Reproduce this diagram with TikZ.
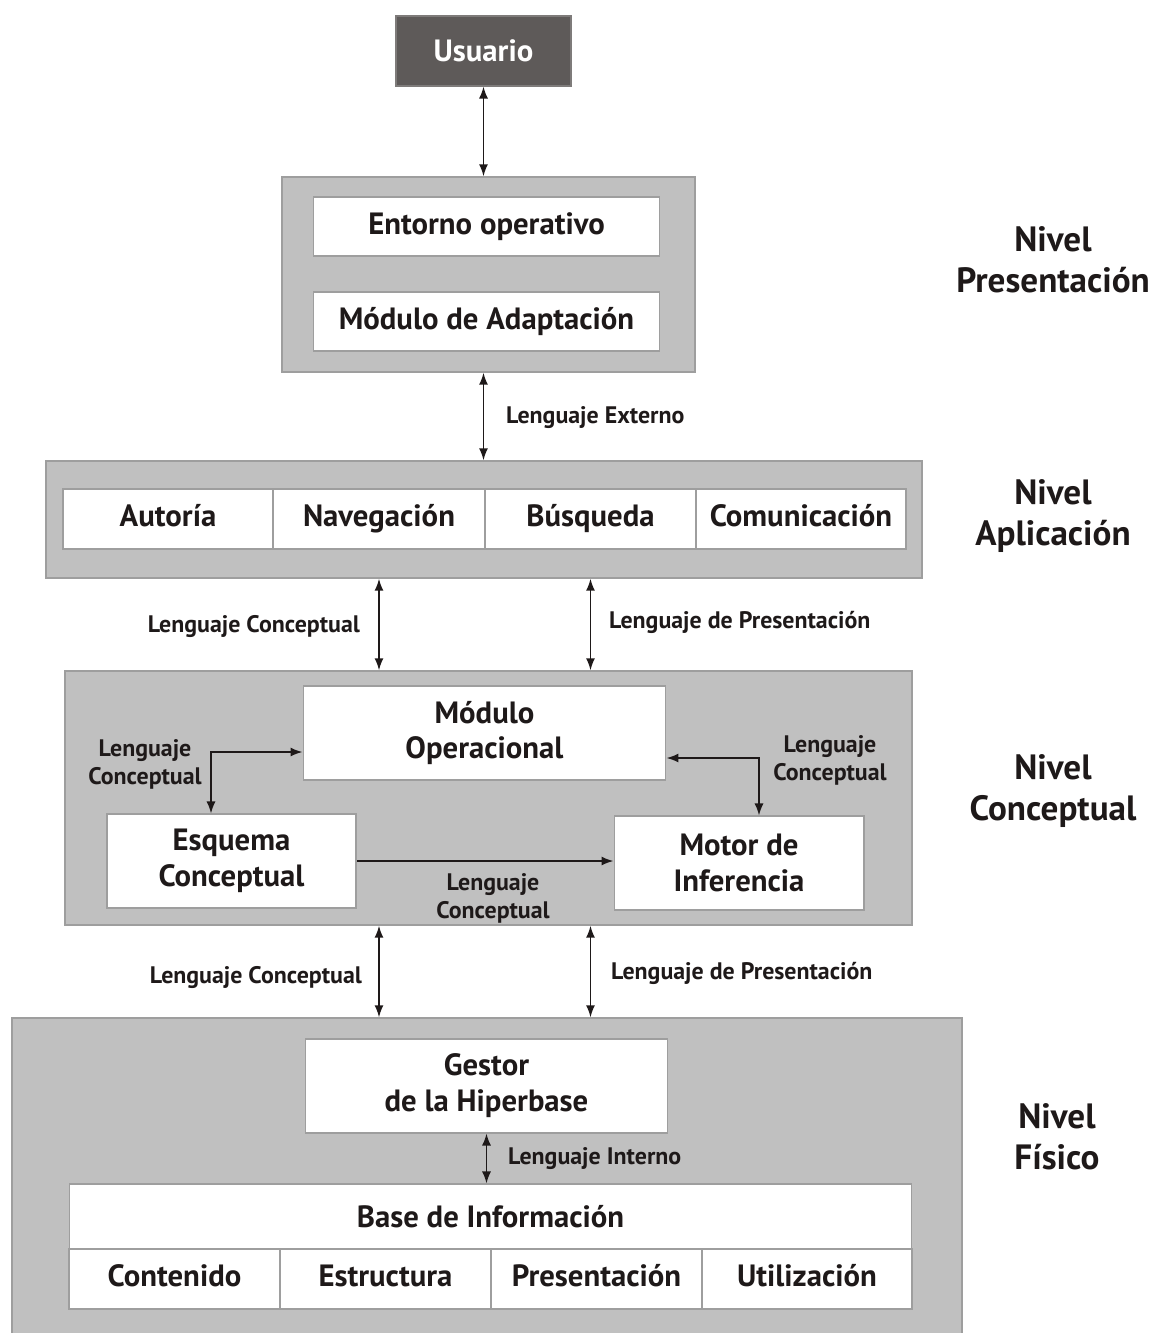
\documentclass[tikz,border=0pt]{standalone}
\usepackage{fontspec}
\setmainfont{PT Sans}
\usetikzlibrary{arrows.meta,positioning}
\definecolor{panelgray}{RGB}{192,192,192}
\definecolor{paneledge}{RGB}{158,158,158}
\definecolor{userdark}{RGB}{94,90,89}
\definecolor{inkblack}{RGB}{30,25,25}

\begin{document}
\begin{tikzpicture}[x=0.02cm,y=-0.02cm,>={Latex[length=2.4mm,width=1.8mm]},
  panel/.style={draw=paneledge,fill=panelgray,line width=0.8pt,inner sep=0pt},
  box/.style={draw=paneledge,fill=white,line width=0.6pt,inner sep=0pt,align=center,
              font=\bfseries\fontsize{17.5}{20.4}\selectfont,text=inkblack},
  cell/.style={box,minimum width=4.22cm,minimum height=1.2cm,text height=2.4ex,text depth=0.7ex},
  lbl/.style={font=\bfseries\fontsize{13.6}{15.9}\selectfont,text=inkblack,inner sep=1pt,align=center},
  nivel/.style={font=\bfseries\fontsize{20}{23.2}\selectfont,align=center,text=inkblack},
  link/.style={<->,line width=0.9pt,draw=inkblack}]
  \useasboundingbox (0,0) rectangle (1151,1333);

  % usuario
  \node[box,fill=userdark,draw=userdark!80,text=white,minimum width=3.5cm,minimum height=1.4cm]
    (usuario) at (483.5,51) {Usuario};

  % nivel presentacion
  \node[panel,minimum width=8.26cm,minimum height=3.9cm] (pres) at (488.5,274.5) {};
  \node[box,minimum width=6.94cm,minimum height=1.18cm] (entorno) at (486.5,226.5) {Entorno operativo};
  \node[box,minimum width=6.94cm,minimum height=1.18cm] (adapt) at (486.5,321.5) {Módulo de Adaptación};

  % nivel aplicacion
  \node[panel,minimum width=17.52cm,minimum height=2.34cm] (apl) at (484,519.5) {};
  \node[cell,minimum width=4.2cm] (aut) at (168,519) {Autoría};
  \node[cell,minimum width=4.24cm] (nav) at (379,519) {Navegación};
  \node[cell] (bus) at (590.5,519) {Búsqueda};
  \node[cell,minimum width=4.2cm] (com) at (801,519) {Comunicación};

  % nivel conceptual
  \node[panel,minimum width=16.94cm,minimum height=5.08cm] (conc) at (488.5,798) {};
  \node[box,minimum width=7.26cm,minimum height=1.88cm] (modop) at (484.5,733) {Módulo\\Operacional};
  \node[box,minimum width=4.98cm,minimum height=1.88cm] (esq) at (231.5,861) {Esquema\\Conceptual};
  \node[box,minimum width=5.0cm,minimum height=1.88cm] (motor) at (739,863) {Motor de\\Inferencia};

  % nivel fisico
  \node[panel,minimum width=19.0cm,minimum height=6.6cm] (fis) at (487,1183) {};
  \node[box,minimum width=7.26cm,minimum height=1.88cm] (gestor) at (486.5,1086) {Gestor\\de la Hiperbase};
  \node[box,minimum width=16.86cm,minimum height=1.3cm] (base) at (490.5,1216.5) {Base de Información};
  \node[cell] (cont) at (174.5,1279) {Contenido};
  \node[cell] (estr) at (385.5,1279) {Estructura};
  \node[cell] (pre) at (596.5,1279) {Presentación};
  \node[cell,minimum width=4.2cm] (uti) at (807,1279) {Utilización};

  % conectores
  \draw[link] (usuario.south) -- (usuario.south |- pres.north);
  \draw[link] (usuario.south |- pres.south) -- (usuario.south |- apl.north);
  \draw[link] (apl.south -| nav) -- (conc.north -| nav);
  \draw[link] (apl.south -| bus) -- (conc.north -| bus);
  \draw[link] ([xshift=-0.41cm]esq.north) |- ([yshift=-0.38cm]modop.west);
  \draw[link] ([yshift=-0.5cm]modop.east) -| ([xshift=0.4cm]motor.north);
  \draw[link,<-] (esq.east -| motor.west) -- (esq.east);
  \draw[link] (conc.south -| nav) -- (fis.north -| nav);
  \draw[link] (conc.south -| bus) -- (fis.north -| bus);
  \draw[link] (gestor.south) -- (base.north -| gestor);

  % etiquetas
  \node[lbl,anchor=west] (lext) at (504,418) {Lenguaje Externo};
  \node[lbl,anchor=east] (lcon1) at (362,626) {Lenguaje Conceptual};
  \node[lbl,anchor=west] (lpre1) at (607,622) {Lenguaje de Presentación};
  \node[lbl] (lcon2) at (145,764) {Lenguaje\\Conceptual};
  \node[lbl] (lcon3) at (830,760) {Lenguaje\\Conceptual};
  \node[lbl] (lcon4) at (493,898) {Lenguaje\\Conceptual};
  \node[lbl,anchor=east] (lcon5) at (364,977) {Lenguaje Conceptual};
  \node[lbl,anchor=west] (lpre2) at (609,973) {Lenguaje de Presentación};
  \node[lbl,anchor=west] (lint) at (506,1159) {Lenguaje Interno};

  \node[nivel] (npres) at (1053,260) {Nivel\\Presentación};
  \node[nivel] (napl) at (1053,516) {Nivel\\Aplicación};
  \node[nivel] (nconc) at (1053,791) {Nivel\\Conceptual};
  \node[nivel] (nfis) at (1057,1137) {Nivel\\Físico};
\end{tikzpicture}
\end{document}
